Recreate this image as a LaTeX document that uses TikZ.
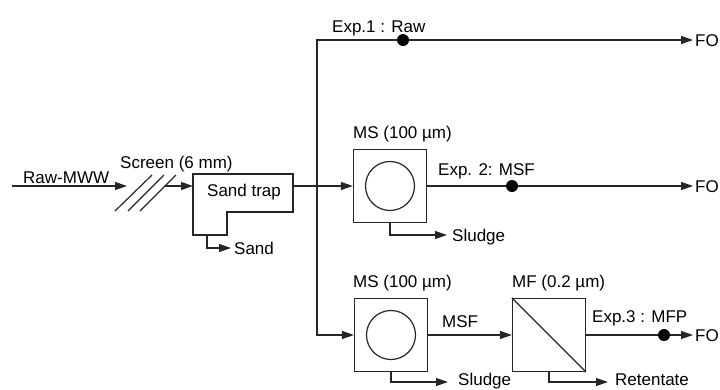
\documentclass[tikz,border=0pt]{standalone}
\usepackage{fontspec}
\setmainfont{Liberation Sans}
\usetikzlibrary{arrows.meta}
\begin{document}
\begin{tikzpicture}[x=1pt,y=-1pt,
  line/.style={line width=1.2pt, draw=black!85},
  arr/.style={line, -{Triangle[length=12pt,width=8pt]}},
  lbl/.style={font=\fontsize{17}{19}\selectfont, inner sep=0pt, anchor=base west},
  box/.style={line, minimum width=73pt, minimum height=73pt, inner sep=0pt},
  ring/.style={line, circle, minimum size=49pt, inner sep=0pt},
  dot/.style={circle, fill=black, minimum size=12pt, inner sep=0pt}]
\useasboundingbox (0,0) rectangle (720,389);

% ---- inflow and screen
\coordinate (rawstart) at (12,186);
\coordinate (screenin) at (127,186);
\coordinate (screenout) at (165,186);
\node[lbl] (rawlbl) at (23,183) {Raw-MWW};
\node[lbl] (screenlbl) at (120,168) {Screen (6 mm)};
\draw[arr] (rawstart) -- (screenin);
\draw[line] (115,211) -- (152,175);
\draw[line] (128,211) -- (164,175);
\draw[line] (140,211) -- (176,175);

% ---- sand trap
\coordinate (stin) at (193,186);
\coordinate (stout) at (293,186);
\draw[line] (193,174) -- (293,174) -- (293,212) -- (227,212) -- (227,235) -- (193,235) -- cycle;
\node[lbl] (stlbl) at (207,196) {Sand trap};
\draw[arr] (screenout) -- (stin);
\coordinate (sandstart) at (207,235);
\coordinate (sandtip) at (231,248);
\node[lbl] (sandlbl) at (234,254) {Sand};
\draw[arr] (sandstart) |- (sandtip);

% ---- boxes
\node[box] (ms2) at (390,186) {};
\node[ring] (c2) at (ms2.center) {};
\node[box] (ms3) at (391,335) {};
\node[ring] (c3) at (ms3.center) {};
\node[box] (mf) at (549,335) {};
\draw[line] (mf.north west) -- (mf.south east);

\node[lbl] (ms2lbl) at (353,138) {MS (100 µm)};
\node[lbl] (ms3lbl) at (353,287) {MS (100 µm)};
\node[lbl] (mflbl) at (512,287) {MF (0.2 µm)};

% ---- trunk
\coordinate (j) at (317,186);
\coordinate (fo1tip) at (693,40);
\coordinate (fo2tip) at (693,186);
\coordinate (fo3tip) at (693,335);
\node[lbl] (fo1) at (695,46) {FO};
\node[lbl] (fo2) at (695,192) {FO};
\node[lbl] (fo3) at (695,341) {FO};

\draw[arr] (stout) -- (ms2.west);
\draw[arr] (j) |- (fo1tip);
\draw[arr] (j) |- (ms3.west);
\draw[arr] (ms2.east) -- (fo2tip);
\draw[arr] (ms3.east) -- (mf.west);
\draw[arr] (mf.east) -- (fo3tip);

\node[lbl] (exp1) at (332,32) {Exp.1 : Raw};
\node[lbl] (exp2) at (438,175) {Exp. 2: MSF};
\node[lbl] (msf) at (442,327) {MSF};
\node[lbl] (exp3) at (592,322) {Exp.3 : MFP};

\node[dot] (d1) at (403,40) {};
\node[dot] (d2) at (512,186) {};
\node[dot] (d3) at (664,335) {};

% ---- sludge / retentate
\coordinate (sl2tip) at (447,235);
\coordinate (sl3tip) at (448,382);
\coordinate (rettip) at (608,382);
\node[lbl] (sl2) at (452,241) {Sludge};
\node[lbl] (sl3) at (458,385) {Sludge};
\node[lbl] (ret) at (615,385) {Retentate};
\draw[arr] (ms2.south) |- (sl2tip);
\draw[arr] (ms3.south) |- (sl3tip);
\draw[arr] (mf.south) |- (rettip);
\end{tikzpicture}
\end{document}
